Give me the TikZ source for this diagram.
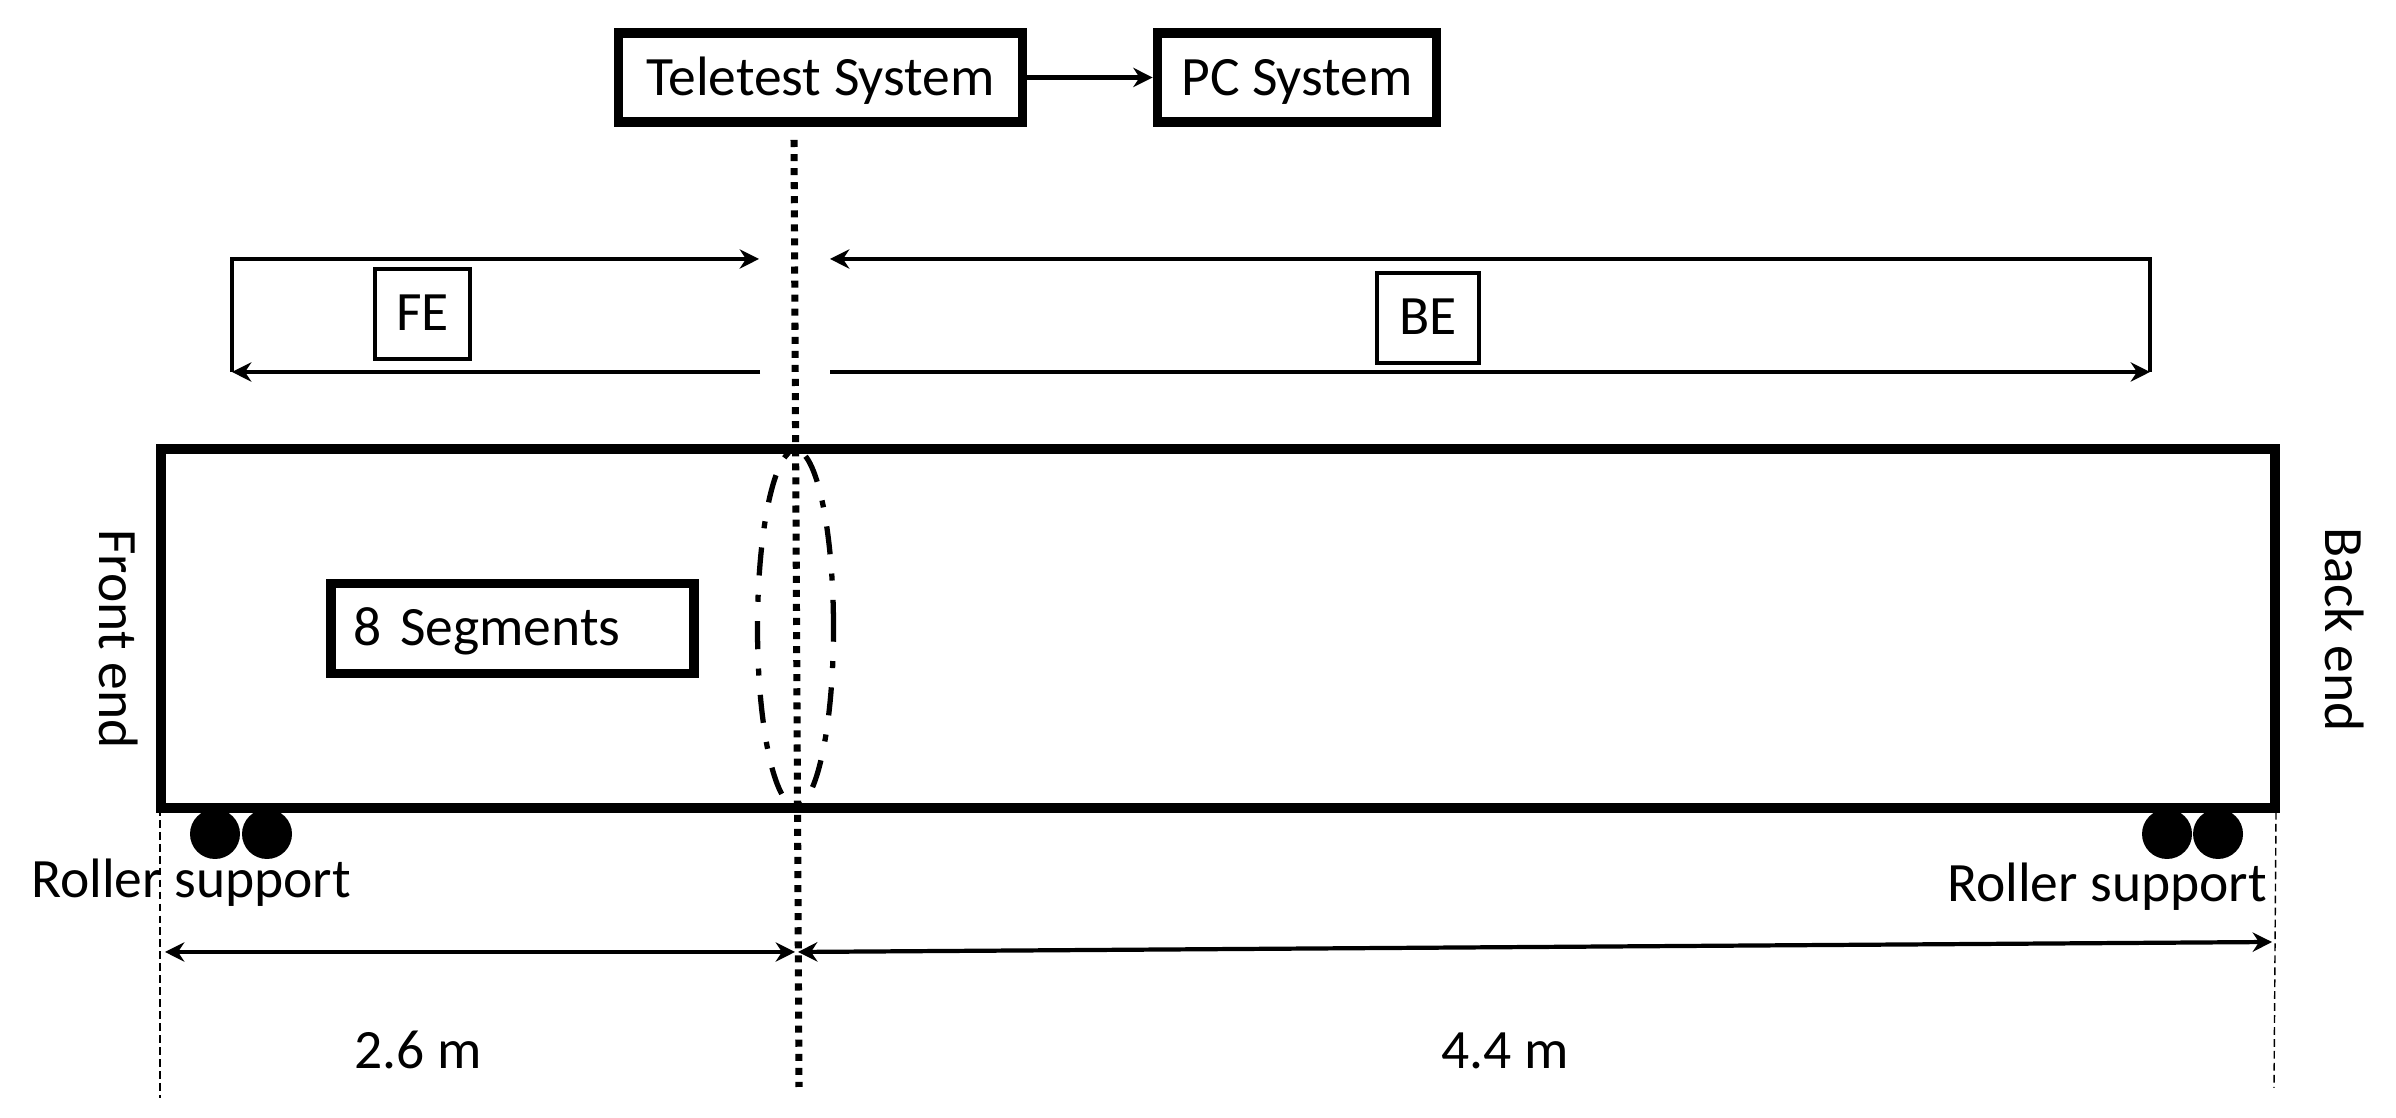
\documentclass[tikz,border=0pt]{standalone}
\usepackage{fontspec}
\setmainfont{Carlito}
\usetikzlibrary{arrows.meta,shapes.geometric}

\begin{document}
\begin{tikzpicture}

\tikzset{line/.style={draw,line width=2.8pt}}
\tikzset{thinline/.style={draw,line width=1.2pt}}
\tikzset{arrow/.style={thinline,>={Stealth[length=5.5pt,width=5.5pt]}}}
\tikzset{label/.style={font=\fontsize{15.8pt}{18pt}\selectfont,inner sep=0pt}}
\tikzset{sysbox/.style={line,label,minimum height=0.89cm,text height=0.36cm,text depth=0cm}}
\tikzset{endbox/.style={label,draw,line width=1.1pt,minimum height=0.9cm,text height=0.33cm,text depth=0cm}}
\tikzset{roller/.style={circle,fill=black,inner sep=0pt,minimum size=0.5cm}}
\tikzset{limit/.style={draw,line width=0.4pt,dash pattern=on 2.2pt off 1.2pt}}

\useasboundingbox (0,0) rectangle (23.96,11.18);

\node[sysbox,minimum width=4.04cm] (tele) at (8.205,10.405) {Teletest System};
\node[sysbox,minimum width=2.79cm] (pc) at (12.97,10.405) {PC System};
\path[line,->,line width=1.5pt,>={Stealth[length=5.5pt,width=5.5pt]}] (tele) to (pc);

\coordinate (axistop) at (7.94,9.78);
\coordinate (axisbot) at (7.99,0.31);
\path[draw,line width=2pt,dash pattern=on 2pt off 2pt] (axistop) to (axisbot);

\coordinate (fetl) at (2.32,8.59);
\coordinate (fetr) at (7.59,8.59);
\coordinate (febl) at (2.32,7.46);
\coordinate (febr) at (7.60,7.46);
\coordinate (betl) at (8.30,8.59);
\coordinate (betr) at (21.50,8.59);
\coordinate (bebl) at (8.30,7.46);
\coordinate (bebr) at (21.50,7.46);

\path[arrow,->] (febl) to (fetl) to (fetr);
\path[arrow,->] (febr) to (febl);
\path[arrow,->] (bebr) to (betr) to (betl);
\path[arrow,->] (bebl) to (bebr);

\node[endbox,minimum width=0.955cm,minimum height=0.895cm] (fe) at (4.225,8.04) {FE};
\node[endbox,minimum width=1.02cm] (be) at (14.28,8.00) {BE};

\node[line,minimum width=21.14cm,minimum height=3.59cm] (beam) at (12.18,4.895) {};
\node[line,label,text width=3.18cm,align=left,inner xsep=0.225cm,minimum width=3.63cm,minimum height=0.90cm,text height=0.34cm,text depth=0cm] (seg) at (5.125,4.895) {8 Segments};

\node[shape=ellipse,draw,line width=1.5pt,dash pattern=on 8pt off 5.5pt on 2pt off 5.5pt,inner sep=0pt,minimum width=0.76cm,minimum height=3.56cm] (weld) at (7.955,4.90) {};

\node[label,rotate=-90] (front) at (1.19,4.79) {Front end};
\node[label,rotate=-90] (back) at (23.45,4.885) {Back end};

\node[roller] (r1) at (2.15,2.84) {};
\node[roller] (r2) at (2.67,2.84) {};
\node[roller] (r3) at (21.67,2.84) {};
\node[roller] (r4) at (22.18,2.84) {};

\node[label,anchor=base] (rolla) at (1.91,2.20) {Roller support};
\node[label,anchor=base] (rollb) at (21.07,2.16) {Roller support};

\coordinate (limla) at (1.60,3.10);
\coordinate (limlb) at (1.60,0.20);
\coordinate (limra) at (22.76,3.06);
\coordinate (limrb) at (22.74,0.30);
\path[limit] (limla) to (limlb);
\path[limit] (limra) to (limrb);

\coordinate (dimla) at (1.65,1.66);
\coordinate (dimlb) at (7.95,1.66);
\coordinate (dimra) at (7.98,1.66);
\coordinate (dimrb) at (22.72,1.76);
\path[arrow,<->] (dimla) to (dimlb);
\path[arrow,<->] (dimra) to (dimrb);

\node[label,anchor=base] (lena) at (4.18,0.49) {2.6 m};
\node[label,anchor=base] (lenb) at (15.05,0.49) {4.4 m};

\end{tikzpicture}
\end{document}
